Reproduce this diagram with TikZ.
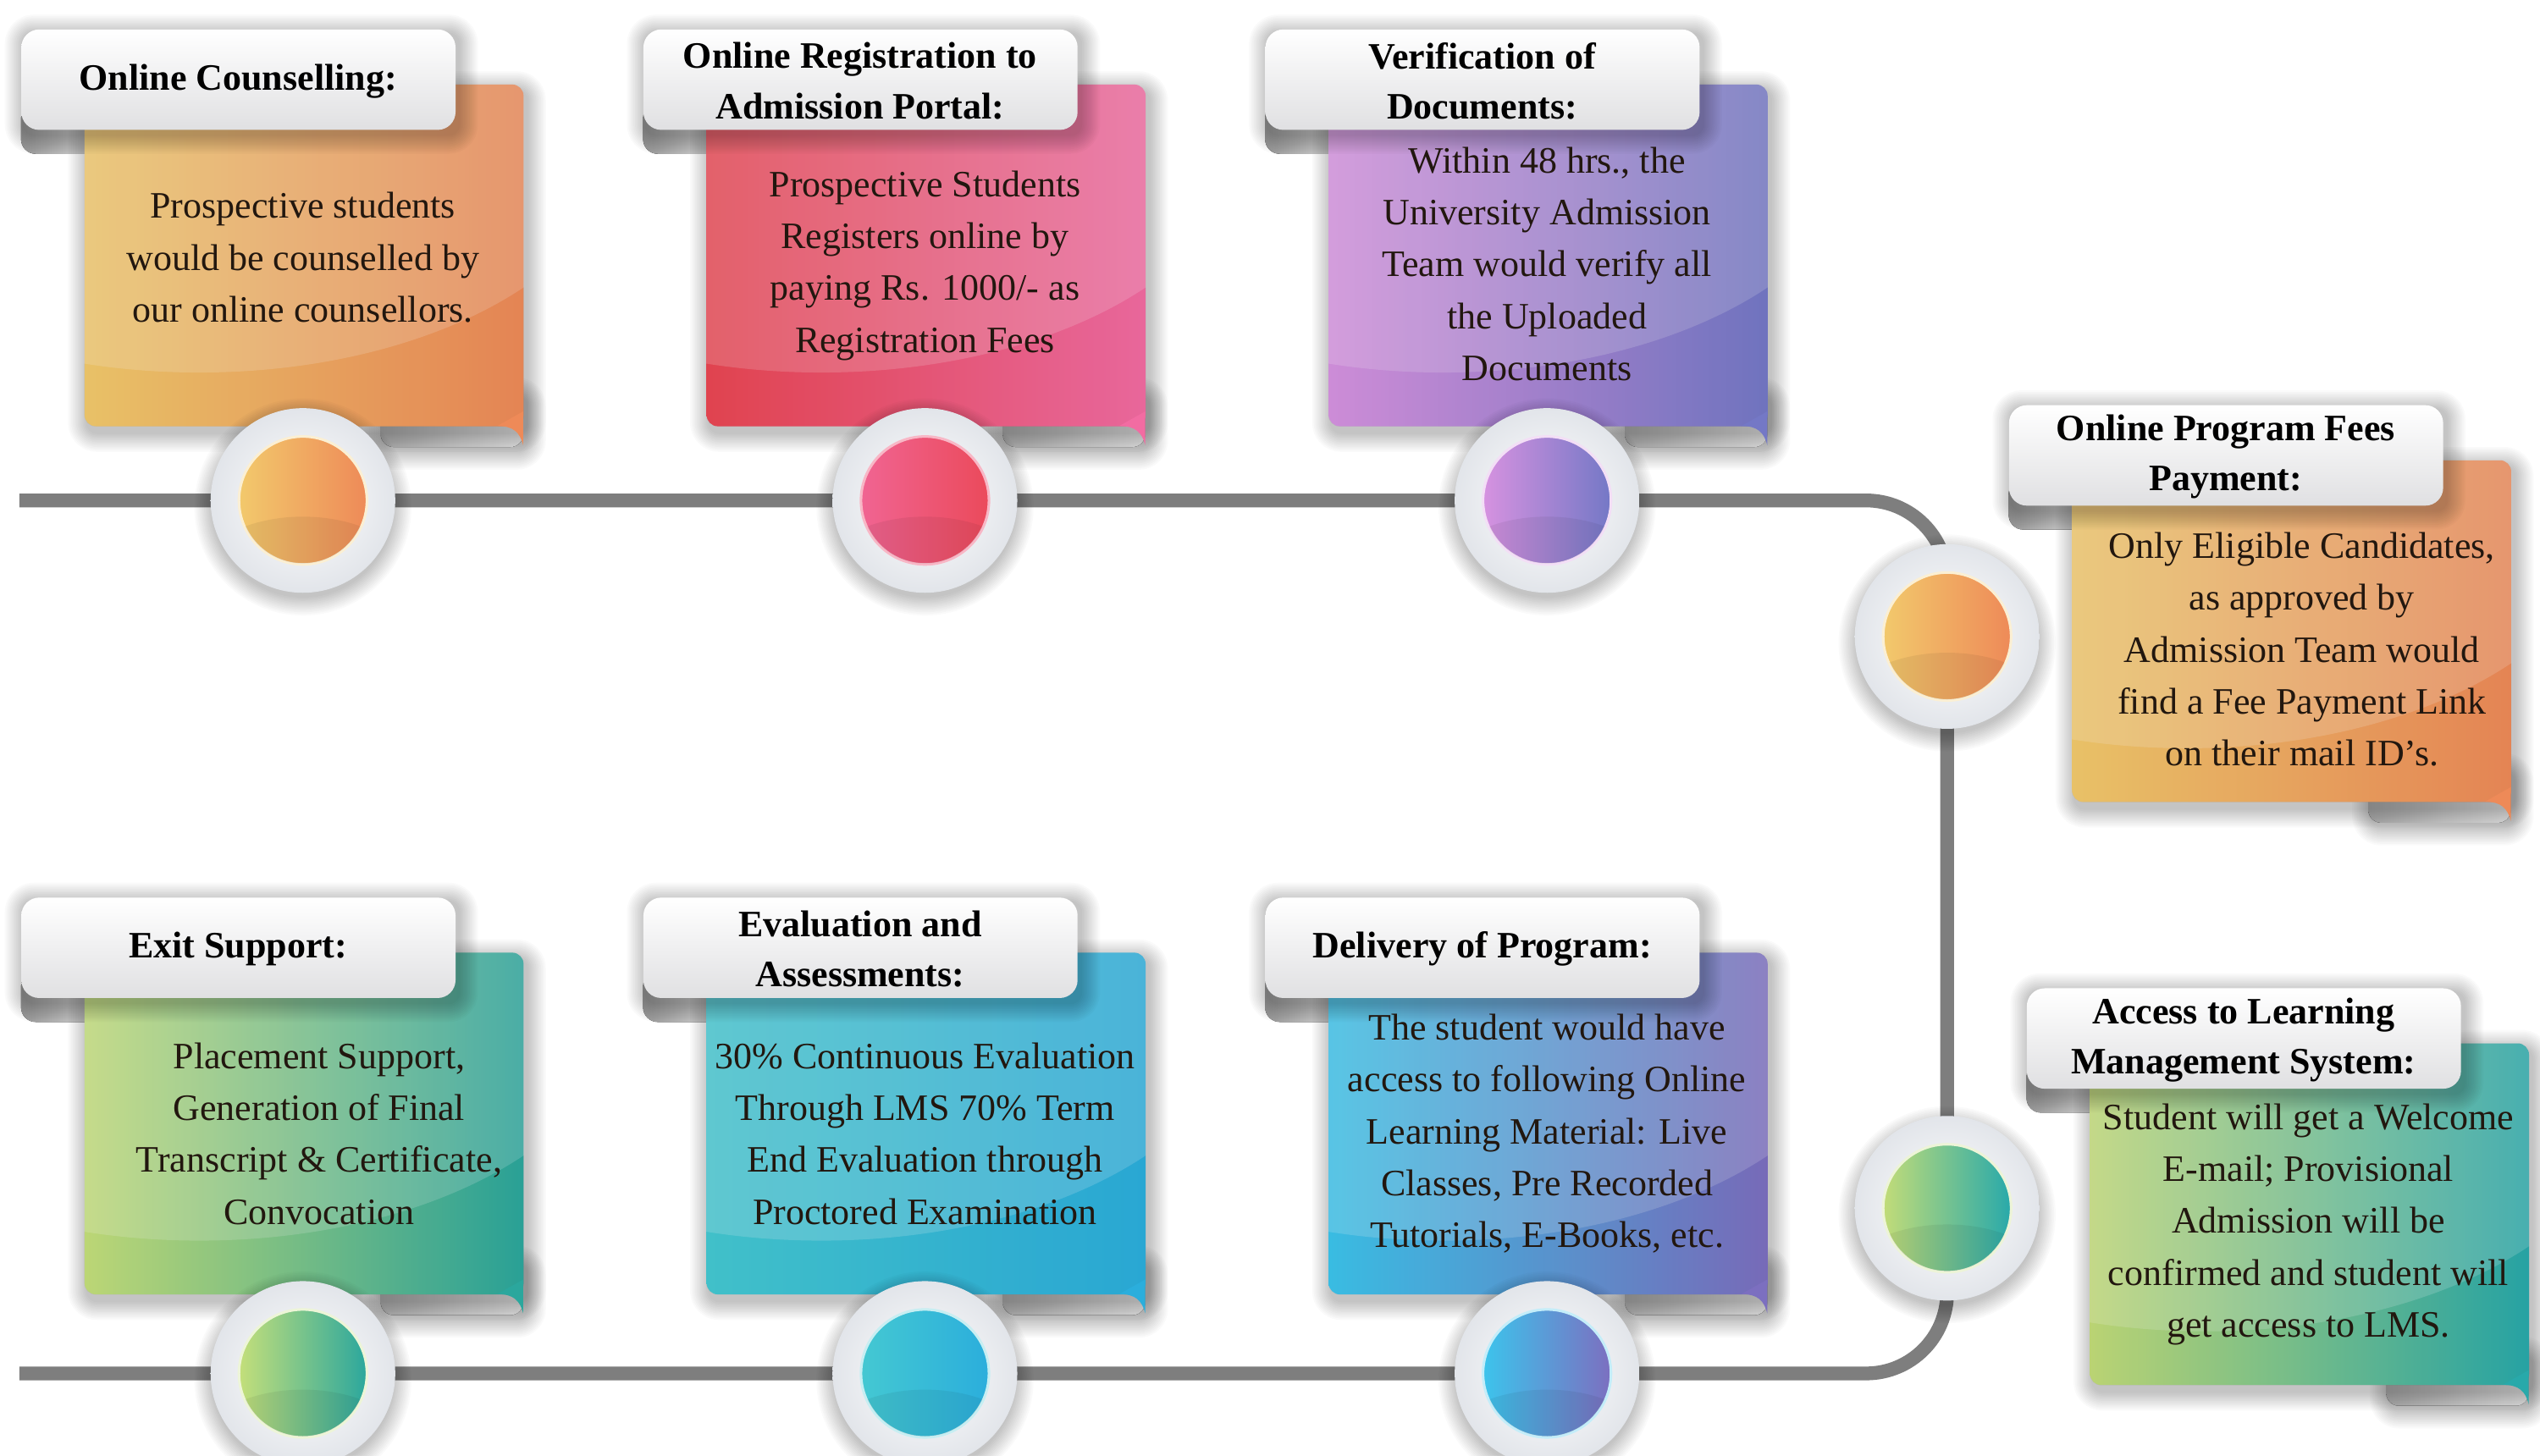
\documentclass[tikz,border=0pt]{standalone}
\usepackage{fontspec}
\setmainfont{Liberation Serif}

\definecolor{linegray}{HTML}{7E7E7E}
\definecolor{tabgray}{HTML}{E0E0E2}
\definecolor{curldark}{HTML}{9A9A9A}
\definecolor{curllight}{HTML}{E4E4E4}
\definecolor{ringedge}{HTML}{E2E5EA}
\definecolor{bodyink}{HTML}{22170F}
% card colours
\definecolor{orL}{HTML}{F2C96C}
\definecolor{orR}{HTML}{EE8A58}
\definecolor{pkL}{HTML}{EA4653}
\definecolor{pkR}{HTML}{F26CA2}
\definecolor{puL}{HTML}{D692E0}
\definecolor{puR}{HTML}{7478C6}
\definecolor{gtL}{HTML}{C2DC78}
\definecolor{gtR}{HTML}{28A9AA}
\definecolor{exL}{HTML}{C4DF7A}
\definecolor{exR}{HTML}{2BA79D}
\definecolor{evL}{HTML}{44C8D2}
\definecolor{evR}{HTML}{2BAEDC}
\definecolor{dlL}{HTML}{3CC4EC}
\definecolor{dlR}{HTML}{7C6FC0}

\tikzset{
  timeline/.style={line width=8.5pt, draw=linegray},
  softshade/.style={fill=black, fill opacity=0.018, draw=none},
  tabbox/.style={rectangle, rounded corners=11pt, top color=white, bottom color=tabgray,
    minimum width=268pt, minimum height=62pt, inner sep=0pt},
  cardbox/.style={rectangle, rounded corners=7pt, minimum width=271pt, minimum height=211pt, inner sep=0pt},
  titletext/.style={font=\fontsize{23}{31}\selectfont\bfseries, align=center, text=black},
  bodytext/.style={font=\fontsize{23}{32}\selectfont, align=center, text=bodyink},
  ringbox/.style={circle, minimum size=114pt, inner sep=0pt, inner color=white, outer color=ringedge},
}

% soft shadow of a rounded rectangle: x1 y1 x2 y2 (picture units), drop
\newcommand\softrect[5]{%
  \foreach \k in {1,...,12}{
    \fill[softshade, rounded corners={(6+\k)*1pt}] ({#1-\k+2},{#2-\k+#5}) rectangle ({#3+\k+2},{#4+\k+#5});
  }%
}

% #1 name, #2 x, #3 y (tab top-left), #4 left colour, #5 right colour, #6 title, #7 body, #8 body dx, #9 body dy
\newcommand\stepcard[9]{%
  \fill[left color=curldark, right color=curllight, rounded corners=9pt] ({#2},{#3+46}) rectangle ({#2+56},{#3+77});
  \softrect{#2+222}{#3+225}{#2+310}{#3+258}{2}
  \fill[left color=curldark!80, right color=curllight, rounded corners=8pt] ({#2+222},{#3+225}) rectangle ({#2+310},{#3+258});
  \softrect{#2+39}{#3+34}{#2+310}{#3+245}{4}
  \node[cardbox, left color=#4, right color=#5, anchor=north west] (#1card) at ({#2+39},{#3+34}) {};
  \begin{scope}
    \clip[rounded corners=7pt] (#1card.north west) rectangle (#1card.south east);
    \fill[white, opacity=0.17] ({#2+110},{#3+64}) ellipse (262pt and 148pt);
    \fill[black, opacity=0.04] ({#2+110},{#3+64}) ellipse (420pt and 250pt);
  \end{scope}
  \fill[#5] ({#2+310},{#3+236}) -- ({#2+310},{#3+257}) .. controls ({#2+308},{#3+249}) and ({#2+304},{#3+245}) .. ({#2+294},{#3+245}) -- cycle;
  \softrect{#2}{#3}{#2+268}{#3+62}{3}
  \node[tabbox, anchor=north west] (#1tab) at ({#2},{#3}) {};
  \node[titletext] (#1title) at ({#2+134},{#3+32}) {#6};
  \node[bodytext] (#1body) at ({#2+174+#8},{#3+146+#9}) {#7};
}

% #1 name, #2 coordinate, #3 left colour, #4 right colour
\newcommand\stepdot[4]{%
  \foreach \k in {1,...,12}{
    \fill[softshade] ([yshift=-4pt]#2) circle ({(55+\k)*1pt});
  }
  \node[ringbox] (#1) at (#2) {};
  \fill[left color=#3, right color=#4, draw=white!70!#3, line width=1.6pt] (#1.center) circle (39.5pt);
  \begin{scope}
    \clip (#1.center) circle (39pt);
    \fill[black, opacity=0.06] ([yshift=-60pt]#1.center) ellipse (75pt and 50pt);
  \end{scope}
}

\begin{document}
\begin{tikzpicture}[x=1pt, y=-1pt]
  \useasboundingbox (0,0) rectangle (1568,898.5);
  \fill[white] (0,0) rectangle (1568,898.5);

  % timeline anchor points
  \coordinate (ltop) at (12,309);
  \coordinate (lbot) at (12,848);
  \coordinate (p1) at (187,309);
  \coordinate (p2) at (571,309);
  \coordinate (p3) at (955,309);
  \coordinate (p4) at (1202,393);
  \coordinate (p5) at (1202,746);
  \coordinate (p6) at (955,848);
  \coordinate (p7) at (571,848);
  \coordinate (p8) at (187,848);

  \draw[timeline, rounded corners=50pt] (ltop) -| (p5) |- (lbot);

  % cards
  \stepcard{cou}{13}{18}{orL}{orR}{Online Counselling:}{Prospective students\\would be counselled by\\our online counsellors.}{0}{-5}
  \stepcard{reg}{397}{18}{pkL}{pkR}{Online Registration to\\Admission Portal:}{Prospective Students\\Registers online by\\paying Rs. 1000/- as\\Registration Fees}{0}{0}
  \stepcard{ver}{781}{18}{puL}{puR}{Verification of\\Documents:}{Within 48 hrs., the\\University Admission\\Team would verify all\\the Uploaded\\Documents}{0}{-1}
  \stepcard{fee}{1240}{250}{orL}{orR}{Online Program Fees\\Payment:}{Only Eligible Candidates,\\as approved by\\Admission Team would\\find a Fee Payment Link\\on their mail ID's.}{7}{5}
  \stepcard{lms}{1251}{610}{gtL}{gtR}{Access to Learning\\Management System:}{Student will get a Welcome\\E-mail; Provisional\\Admission will be\\confirmed and student will\\get access to LMS.}{0}{0}
  \stepcard{exi}{13}{554}{exL}{exR}{Exit Support:}{Placement Support,\\Generation of Final\\Transcript \& Certificate,\\Convocation}{10}{0}
  \stepcard{eva}{397}{554}{evL}{evR}{Evaluation and\\Assessments:}{30\% Continuous Evaluation\\Through LMS 70\% Term\\End Evaluation through\\Proctored Examination}{0}{0}
  \stepcard{del}{781}{554}{dlL}{dlR}{Delivery of Program:}{The student would have\\access to following Online\\Learning Material: Live\\Classes, Pre Recorded\\Tutorials, E-Books, etc.}{0}{0}

  % dots on the timeline
  \stepdot{c1}{p1}{orL}{orR}
  \stepdot{c2}{p2}{pkR!80!pkL}{pkL!90!pkR}
  \stepdot{c3}{p3}{puL}{puR}
  \stepdot{c4}{p4}{orL}{orR}
  \stepdot{c5}{p5}{gtL}{gtR}
  \stepdot{c6}{p6}{dlL}{dlR}
  \stepdot{c7}{p7}{evL}{evR}
  \stepdot{c8}{p8}{exL}{exR}
\end{tikzpicture}
\end{document}
